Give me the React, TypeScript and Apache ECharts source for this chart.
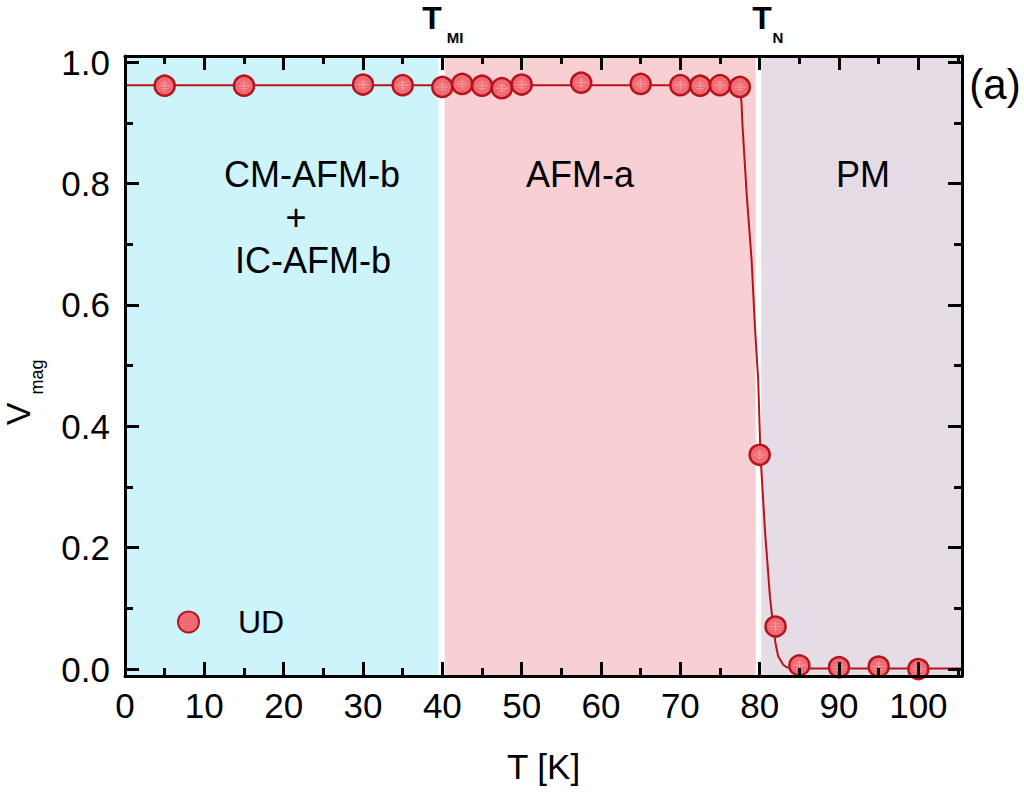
import React, { useEffect, useRef } from "react";
import * as echarts from "echarts";

// ---- data ----
const tempK = [5, 15, 30, 35, 40, 42.5, 45, 47.5, 50, 57.5, 65, 70, 72.5, 75, 77.5, 80, 82, 85, 90, 95, 100];
const vmagUD = [0.961, 0.961, 0.963, 0.962, 0.959, 0.964, 0.961, 0.957, 0.963, 0.966, 0.964, 0.962, 0.961, 0.962, 0.959, 0.353, 0.07, 0.006, 0.003, 0.004, 0.0];

const fitT = [0, 77.0, 77.5, 77.7, 77.84, 78.35, 78.98, 79.4, 79.81, 80.1, 80.66, 81.29, 81.7, 82.0, 82.33, 82.97, 83.4, 84.5, 105.5];
const fitV = [0.962, 0.962, 0.958, 0.935, 0.894, 0.784, 0.674, 0.564, 0.477, 0.353, 0.229, 0.12, 0.07, 0.042, 0.021, 0.007, 0.003, 0.001, 0.001];

const xTickStep = 10;
const yMajorTicks = [0, 0.2, 0.4, 0.6, 0.8, 1.0];
const yMinorTicks = [0.1, 0.3, 0.5, 0.7, 0.9];

const phaseRanges = [
  { from: 0, to: 39.5, color: "#cdf4fb" },
  { from: 40.3, to: 79.5, color: "#f8d0d3" },
  { from: 80.2, to: 105.5, color: "#e6dce6" },
];

const X_MIN = 0;
const X_MAX = 105.5;
const Y_MIN = -0.0115;
const Y_MAX = 1.01;

const FONT = "Liberation Sans, Arial, sans-serif";
const RED = "#b5141d";
const FILL = "#ef6b73";

const hatchPath =
  "path://M2 9.3H18V10.7H2Z M5 5.9H15V6.9H5Z M5 13.1H15V14.1H5Z M9.4 3H10.6V17H9.4Z";

export default function App() {
  const ref = useRef<HTMLDivElement>(null);

  useEffect(() => {
    if (!ref.current) return;
    const chart = echarts.init(ref.current, undefined, { renderer: "svg" });

    const points = tempK.map((t, i) => [t, vmagUD[i]]);
    const fit = fitT.map((t, i) => [t, fitV[i]]);

    const axisLine = { show: true, onZero: false, lineStyle: { color: "#000", width: 3 } };
    const noLine = { show: false, onZero: false };
    const tickStyle = { color: "#000", width: 3 };

    const xCommon = {
      type: "value" as const,
      min: X_MIN,
      max: X_MAX,
      interval: xTickStep,
      z: 10,
      splitLine: { show: false },
      axisLine,
      axisTick: { show: true, inside: true, length: 14, lineStyle: tickStyle },
      minorTick: { show: true, splitNumber: 2, length: 8, lineStyle: tickStyle },
    };

    const yCommon = {
      type: "value" as const,
      min: Y_MIN,
      max: Y_MAX,
      z: 10,
      splitLine: { show: false },
    };

    const txt = (x: number, y: number, text: string, font: string, extra: any = {}) => ({
      type: "text",
      x,
      y,
      z: 100,
      ...extra,
      style: { text, font, fill: "#000", align: "center", verticalAlign: "middle" },
    });

    const option: any = {
      animation: false,
      backgroundColor: "#fff",
      grid: { left: 125, right: 62, top: 56, bottom: 116, containLabel: false },
      legend: {
        data: ["UD"],
        left: 172,
        top: 601,
        itemWidth: 21,
        itemHeight: 21,
        icon: "circle",
        z: 20,
        textStyle: { fontSize: 32, fontFamily: FONT, color: "#000", padding: [0, 0, 0, 34] },
      },
      xAxis: [
        {
          ...xCommon,
          position: "bottom",
          name: "T [K]",
          nameLocation: "middle",
          nameGap: 73,
          nameTextStyle: { fontSize: 35, fontFamily: FONT, color: "#000" },
          axisLabel: { show: true, fontSize: 35, fontFamily: FONT, color: "#000", margin: 12 },
        },
        {
          ...xCommon,
          position: "top",
          axisLabel: { show: false },
        },
      ],
      yAxis: [
        {
          ...yCommon,
          position: "left",
          axisLine,
          axisTick: { show: true, inside: true, length: 14, lineStyle: tickStyle, customValues: yMajorTicks },
          axisLabel: {
            show: true,
            customValues: yMajorTicks,
            formatter: (v: number) => v.toFixed(1),
            fontSize: 35,
            fontFamily: FONT,
            color: "#000",
            margin: 15,
          },
        },
        {
          ...yCommon,
          position: "left",
          axisLine: noLine,
          axisTick: { show: true, inside: true, length: 8, lineStyle: tickStyle, customValues: yMinorTicks },
          axisLabel: { show: false },
        },
        {
          ...yCommon,
          position: "right",
          axisLine,
          axisTick: { show: true, inside: true, length: 14, lineStyle: tickStyle, customValues: yMajorTicks },
          axisLabel: { show: false },
        },
        {
          ...yCommon,
          position: "right",
          axisLine: noLine,
          axisTick: { show: true, inside: true, length: 8, lineStyle: tickStyle, customValues: yMinorTicks },
          axisLabel: { show: false },
        },
      ],
      series: [
        {
          name: "fit",
          type: "line",
          xAxisIndex: 0,
          yAxisIndex: 0,
          data: fit,
          showSymbol: false,
          symbol: "none",
          silent: true,
          z: 2,
          lineStyle: { color: RED, width: 2 },
          markArea: {
            silent: true,
            z: 1,
            data: phaseRanges.map((r) => [
              { xAxis: r.from, itemStyle: { color: r.color } },
              { xAxis: r.to },
            ]),
          },
        },
        {
          name: "UD",
          type: "scatter",
          xAxisIndex: 0,
          yAxisIndex: 0,
          data: points,
          symbol: "circle",
          symbolSize: 20,
          z: 3,
          itemStyle: { color: FILL, borderColor: RED, borderWidth: 2.5, opacity: 1 },
        },
        {
          name: "UD-hatch",
          type: "scatter",
          xAxisIndex: 0,
          yAxisIndex: 0,
          data: points,
          symbol: hatchPath,
          symbolSize: 12,
          symbolKeepAspect: true,
          silent: true,
          z: 4,
          itemStyle: { color: "rgba(255,185,190,0.85)" },
        },
      ],
      graphic: [
        txt(312, 174, "CM-AFM-b", `36px ${FONT}`),
        txt(296, 217, "+", `36px ${FONT}`),
        txt(313, 260, "IC-AFM-b", `36px ${FONT}`),
        txt(580, 174, "AFM-a", `36px ${FONT}`),
        txt(863, 174, "PM", `36px ${FONT}`),
        txt(995, 84, "(a)", `42px ${FONT}`),
        txt(432, 18, "T", `bold 32px ${FONT}`),
        txt(455, 37, "MI", `bold 15px ${FONT}`),
        txt(762, 18, "T", `bold 32px ${FONT}`),
        txt(778, 37, "N", `bold 15px ${FONT}`),
        txt(18, 414, "V", `34px ${FONT}`, { rotation: Math.PI / 2 }),
        txt(37, 377, "mag", `18px ${FONT}`, { rotation: Math.PI / 2 }),
      ],
    };

    chart.setOption(option);
    return () => chart.dispose();
  }, []);

  return (
    <div
      ref={ref}
      style={{ position: "fixed", left: 0, top: 0, width: 1024, height: 792, background: "#fff" }}
    />
  );
}
